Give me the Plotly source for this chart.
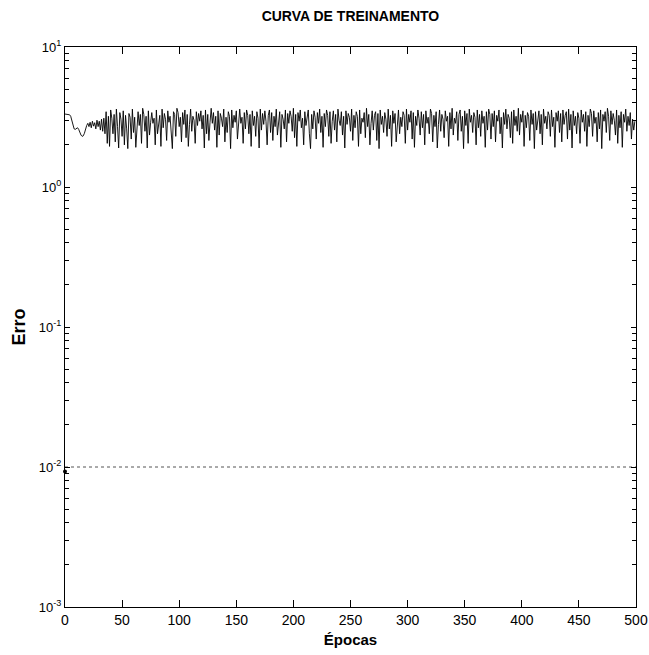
import plotly.graph_objects as go

# ---- data ----
erro_inicio = [3.32, 3.32, 3.31, 3.30, 3.28, 3.20, 3.00, 2.75, 2.60, 2.58, 2.62, 2.65, 2.58, 2.45, 2.35, 2.30, 2.32, 2.42,
               2.60, 2.75, 2.85, 2.70, 2.90, 2.65, 2.95, 2.72, 2.88, 2.60, 3.00, 2.70, 2.95, 2.55, 3.05, 2.50, 3.10, 2.40]
erro_oscil = [
    3.45, 2.05, 3.20, 1.95, 3.55, 3.10, 2.40, 3.30, 2.10, 3.60, 2.70, 1.90, 3.40, 3.05, 2.30, 3.50, 2.00, 3.25, 2.60, 1.88,
    3.35, 3.15, 2.20, 3.60, 2.45, 3.15, 1.92, 2.60, 3.45, 2.75, 3.30, 2.05, 3.65, 3.30, 2.50, 3.20, 1.90, 3.50, 2.35, 2.90,
    3.40, 2.85, 3.10, 2.00, 3.55, 2.40, 2.95, 3.25, 1.95, 3.60, 2.65, 3.35, 3.05, 2.15, 3.50, 2.90, 3.20, 2.55, 1.88, 3.45,
    3.30, 2.30, 3.65, 3.40, 2.70, 3.15, 2.10, 3.40, 2.80, 3.55, 2.25, 3.30, 1.95, 2.80, 3.60, 2.50, 3.20, 3.00, 2.05, 3.45,
    2.75, 3.35, 2.95, 3.50, 2.60, 3.25, 1.90, 3.55, 2.40, 3.30, 2.15, 2.90, 3.65, 2.85, 3.40, 2.55, 3.20, 1.92, 3.50, 2.35,
    3.35, 3.10, 2.70, 3.60, 2.10, 3.15, 2.45, 3.45, 3.20, 1.88, 3.55, 2.65, 3.25, 2.90, 3.50, 2.20, 3.00, 3.60, 2.85, 3.15,
    2.05, 3.40, 2.60, 3.55, 3.25, 2.40, 3.30, 1.95, 3.50, 2.75, 3.20, 2.30, 3.45, 3.10, 1.90, 3.60, 2.55, 3.35, 2.80, 3.50,
    2.95, 2.00, 3.25, 3.55, 2.45, 3.40, 2.15, 3.20, 2.70, 3.60, 2.35, 2.90, 3.45, 1.92, 3.30, 3.05, 2.60, 3.55, 2.10, 3.35,
    2.85, 3.50, 3.20, 2.50, 3.65, 2.25, 3.30, 1.95, 3.40, 2.95, 3.55, 2.65, 3.10, 2.00, 3.45, 2.75, 3.25, 3.55, 2.40, 1.88,
    3.30, 2.60, 3.50, 3.15, 2.20, 3.40, 2.85, 3.60, 2.45, 3.20, 1.92, 3.35, 2.70, 3.55, 3.25, 2.30, 3.45, 2.05, 2.95, 3.50,
    2.55, 3.30, 2.10, 3.60, 3.00, 2.75, 3.45, 2.35, 3.20, 1.90, 3.50, 2.80, 3.35, 3.15, 2.50, 3.60, 2.15, 3.25, 2.65, 3.45,
    3.20, 1.95, 3.55, 2.40, 3.10, 2.90, 3.40, 2.25, 3.65, 2.70, 3.30, 2.00, 2.85, 3.50, 2.55, 3.25, 3.45, 2.15, 3.35, 1.88,
    3.55, 2.80, 3.20, 2.45, 3.40, 3.05, 2.30, 3.60, 2.60, 3.25, 1.95, 3.50, 2.85, 3.35, 2.10, 2.95, 3.55, 2.40, 3.15, 2.70,
    3.45, 3.25, 2.05, 3.60, 2.55, 3.30, 2.90, 3.50, 2.20, 3.40, 1.92, 3.20, 2.75, 3.55, 3.10, 2.35, 3.45, 2.65, 3.30, 2.00,
    3.50, 2.85, 3.15, 2.40, 3.60, 3.35, 2.10, 3.25, 2.70, 3.45, 1.90, 2.80, 3.55, 2.50, 3.30, 3.05, 2.25, 3.50, 2.95, 3.20,
    1.95, 3.40, 2.60, 3.65, 2.35, 3.10, 2.85, 3.45, 2.15, 3.30, 3.55, 2.50, 3.20, 1.88, 3.50, 2.75, 3.35, 2.05, 3.60, 2.90,
    3.25, 2.45, 3.40, 3.15, 2.00, 3.55, 2.65, 3.30, 2.30, 3.50, 2.85, 3.20, 1.92, 3.45, 2.55, 3.60, 3.30, 2.20, 3.35, 2.70,
    3.50, 2.10, 3.25, 2.95, 3.55, 2.40, 3.15, 1.90, 3.40, 2.80, 3.60, 2.60, 3.30, 3.10, 2.25, 3.45, 2.05, 3.55, 2.75, 3.20,
    2.50, 3.65, 2.35, 3.30, 2.90, 3.50, 1.95, 3.25, 2.65, 3.40, 3.20, 2.15, 3.55, 2.80, 3.35, 1.88, 3.45, 2.55, 3.10, 3.50,
    2.40, 3.30, 2.00, 3.60, 2.85, 3.20, 2.60, 3.45, 3.25, 2.30, 3.55, 2.70, 3.15, 1.92, 3.40, 2.95, 3.50, 2.45, 3.35, 2.10,
    3.55, 2.80, 3.25, 3.45, 2.20, 3.60, 2.55, 3.30, 1.90, 3.50, 2.75, 3.20, 2.40, 3.40, 3.10, 2.05, 3.55, 2.90, 3.30, 2.50,
    3.45, 1.95, 3.25, 2.70, 3.60, 3.35, 2.30, 3.50, 2.85, 3.15, 2.10, 3.40, 2.60, 3.55, 1.88, 3.30, 2.95, 3.45, 2.45, 3.65,
    3.20, 2.15, 3.50, 2.80, 3.35, 3.00, 2.35, 3.55, 2.05, 3.25, 2.65, 3.45, 1.92, 3.30, 2.90, 3.60, 2.50, 3.20, 2.75, 3.40,
    2.20, 3.05, 2.55, 2.95,
]
erro = erro_inicio + erro_oscil
epocas = list(range(len(erro)))

meta = 0.01           # goal line
meta_x = [0, 500]
ponto_meta = 0.0093   # marker at epoch 0

x_ticks = [0, 50, 100, 150, 200, 250, 300, 350, 400, 450, 500]
y_ticks = [1e-3, 1e-2, 1e-1, 1e0, 1e1]
y_tick_text = ["10<sup>-3</sup>", "10<sup>-2</sup>", "10<sup>-1</sup>", "10<sup>0</sup>", "10<sup>1</sup>"]
y_minor = [m * 10.0 ** e for e in (-3, -2, -1, 0) for m in range(2, 10)]

FONT = "Liberation Sans, Arial, sans-serif"

fig = go.Figure()
fig.add_trace(go.Scatter(x=meta_x, y=[meta, meta], mode="lines",
                         line=dict(color="#555555", width=1, dash="3px,3px"),
                         showlegend=False, hoverinfo="skip"))
fig.add_trace(go.Scatter(x=epocas, y=erro, mode="lines",
                         line=dict(color="black", width=0.9),
                         showlegend=False))
fig.add_trace(go.Scatter(x=[0], y=[ponto_meta], mode="markers",
                         marker=dict(color="black", size=4),
                         showlegend=False, cliponaxis=False))

fig.update_layout(
    width=649, height=655,
    margin=dict(l=65, r=13, t=47, b=48),
    paper_bgcolor="white", plot_bgcolor="white",
    font=dict(family=FONT, size=14, color="black"),
    title=dict(text="<b>CURVA DE TREINAMENTO</b>", x=0.54, xanchor="center",
               y=0.975, yanchor="middle", font=dict(size=14, family=FONT)),
    xaxis=dict(range=[0, 500], tickvals=x_ticks, ticks="inside", ticklen=7,
               tickcolor="black", showline=True, linecolor="black", linewidth=1,
               mirror="ticks", showgrid=False, zeroline=False, automargin=False,
               tickfont=dict(size=14),
               title=dict(text="<b>Épocas</b>", font=dict(size=15), standoff=7)),
    yaxis=dict(type="log", range=[-3, 1], tickvals=y_ticks, ticktext=y_tick_text,
               ticks="inside", ticklen=5, tickcolor="black", showline=True,
               linecolor="black", linewidth=1, mirror="ticks", showgrid=False,
               zeroline=False, automargin=False, tickfont=dict(size=13),
               minor=dict(tickvals=y_minor, ticks="inside", ticklen=4, tickcolor="black", showgrid=False),
               title=dict(text="<b>Erro</b>", font=dict(size=18), standoff=8)),
)

fig.write_html("out.html", config={"displayModeBar": False},
               post_script="document.body.style.margin='0';document.body.style.overflow='hidden';")
